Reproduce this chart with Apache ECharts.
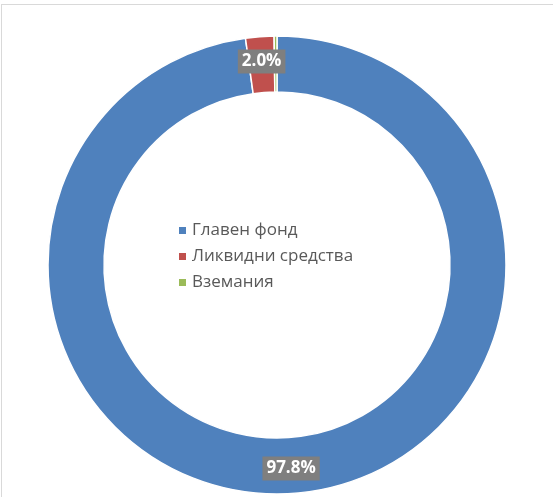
<!DOCTYPE html>
<html>
<head>
<meta charset="utf-8">
<script src="https://cdn.jsdelivr.net/npm/echarts@6/dist/echarts.min.js"></script>
<style>
    body { margin: 0; background: #fff; }
    #frame { position: absolute; left: 1px; top: 4px; width: 560px; height: 500px;
             border-left: 1px solid #d9d9d9; border-top: 1px solid #d9d9d9; }
    #main { position: absolute; left: 0; top: 0; width: 553px; height: 497px; }
</style>
</head>
<body>
<div id="frame"></div>
<div id="main"></div>
<script>
var names = ['Главен фонд', 'Ликвидни средства', 'Вземания'];
var values = [97.8, 2.0, 0.2];
var colors = ['#4f81bd', '#c0504d', '#9bbb59'];

var myChart = echarts.init(document.getElementById('main'));

var data = [];
for (var i = 0; i < names.length; i++) {
    data.push({ value: values[i], name: names[i], itemStyle: { color: colors[i] } });
}

var option = {
    animation: false,
    legend: {
        orient: 'vertical',
        left: 172,
        top: 217,
        itemWidth: 9,
        itemHeight: 9,
        itemGap: 9,
        icon: 'rect',
        textStyle: { color: '#595959', fontSize: 17, fontFamily: 'Open Sans' },
        data: names
    },
    series: [
        {
            name: 'Активи',
            type: 'pie',
            center: [277, 265],
            radius: [173, 229],
            startAngle: 90,
            clockwise: true,
            avoidLabelOverlap: false,
            itemStyle: { borderColor: '#fff', borderWidth: 1.5 },
            label: {
                show: true,
                position: 'inside',
                formatter: function (p) {
                    return p.value < 1 ? '' : p.value.toFixed(1) + '%';
                },
                color: '#fff',
                fontWeight: 'bold',
                fontSize: 17,
                fontFamily: 'Open Sans',
                backgroundColor: '#7f7f7f',
                padding: [4, 4, 3, 4]
            },
            labelLine: { show: false },
            emphasis: { disabled: true },
            data: data
        }
    ]
};

myChart.setOption(option);
</script>
</body>
</html>
